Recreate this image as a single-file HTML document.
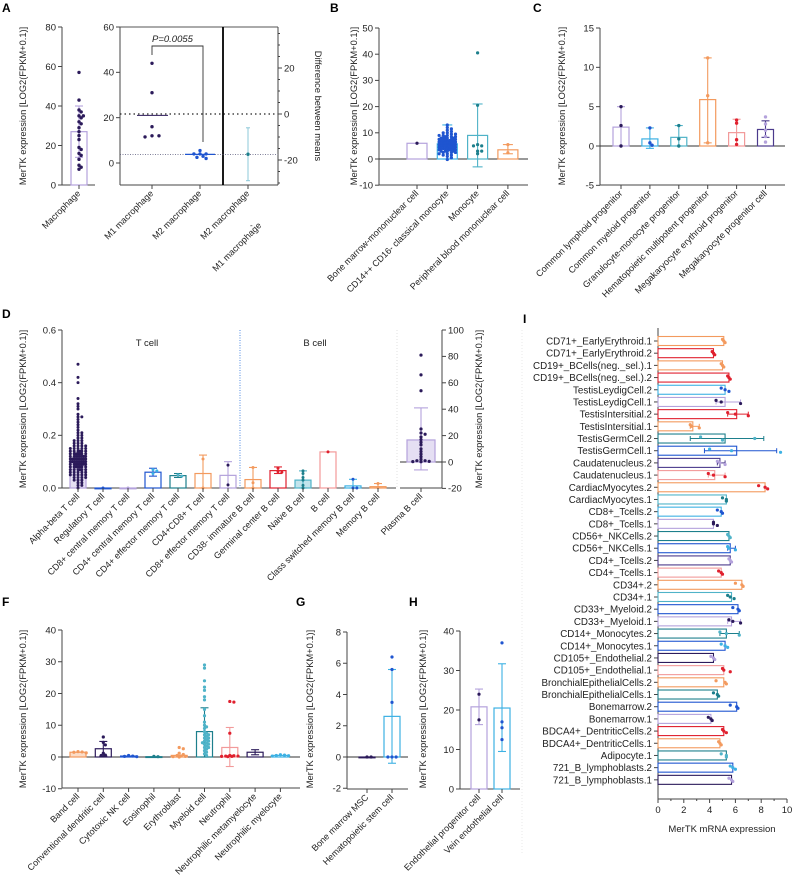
<!DOCTYPE html>
<html><head><meta charset="utf-8"><style>
html,body{margin:0;padding:0;background:#fff}
svg{display:block;font-family:"Liberation Sans",sans-serif}
</style></head><body>
<svg id="fig" width="794" height="890" viewBox="0 0 794 890"></svg>
<script>
const DP='#2b1a5a',BL='#1f55d0',TE='#1d7f8c',OR='#f39a5e',RD='#e0202e',LV='#b4a2dc',LB='#3db1e3',PK='#f29a9a',CY='#4fb3c8',PU='#4b3a8c';
const YT='MerTK expression [LOG2(FPKM+0.1)]';
// ---- Panel A data
const aMacPts=[57,43,38,37,35,35,34,32,31,29,27,25,23,19,18,16,15,13,10,9,8];
const aMacMean=[27];const aMacErr=[[14,40]];
const aM1Pts=[44,31,16,11.5,12,12];const aM1Mean=[21];
const aM2Pts=[5.5,4,4,2,3,2.5,4];const aM2Mean=[3.8];
const aDiff=[-17.5];const aDiffErr=[[-29,-6]];
// ---- Panel B
const bCats=['Bone marrow-mononuclear cell','CD14++ CD16- classical monocyte','Monocyte','Peripheral blood mononuclear cell'];
const bMeans=[6,5.8,9,3.5];
const bErr=[null,[0,13],[-3,21],[2,5.5]];
const bPts=[[6],[13,12,11.5,11,10.5,10,10,9.5,9.5,9,9,9,8.5,8.5,8.5,8,8,8,8,7.5,7.5,7.5,7.5,7,7,7,7,7,6.5,6.5,6.5,6.5,6.5,6,6,6,6,6,6,5.5,5.5,5.5,5.5,5.5,5.5,5,5,5,5,5,5,4.5,4.5,4.5,4.5,4.5,4,4,4,4,4,3.5,3.5,3.5,3.5,3,3,3,3,2.5,2.5,2.5,2,2,1.5,1.5,1,0.5,-0.2],[40.5,20.5,5.5,5,5,3,3,2],[5.5,2.4]];
const bCols=[LV,LB,CY,OR];const bPC=[DP,BL,TE,OR];
// ---- Panel C
const cCats=['Common lymphoid progenitor','Common myeloid progenitor','Granulocyte-monocyte progenitor','Hematopoietic multipotent progenitor','Megakaryocyte erythroid progenitor','Megakaryocyte progenitor cell'];
const cMeans=[2.4,0.9,1.1,5.9,1.7,2.1];
const cErr=[[0,5],[-0.3,2.3],[0,2.6],[0.4,11.2],[0,3.4],[1.1,3.2]];
const cPts=[[5,2.6,0],[2.3,0.1,0.4],[2.6,0.9,0],[11.2,6.4,0.4],[3.3,2.9,0.8,0.2],[3.7,2.8,2,1.2,0.5]];
const cCols=[LV,LB,CY,OR,PK,PU];const cPC=[DP,BL,TE,OR,RD,LV];
// ---- Panel D
const dCats=['Alpha-beta T cell','Regulatory T cell','CD8+ central memory T cell','CD4+ central memory T cell','CD4+ effector memory T cell','CD4+CD8+ T cell','CD8+ effector memory T cell','CD38- immature B cell','Germinal center B cell','Naive B cell','B cell','Class switched memory B cell','Memory B cell'];
const dMeans=[0.1,0,0,0.06,0.047,0.055,0.048,0.032,0.066,0.03,0.137,0.008,0.005];
const dErr=[null,null,null,[0.045,0.075],[0.04,0.055],[0,0.125],[0,0.1],[0,0.078],[0.055,0.08],[0,0.065],null,[0,0.033],[0,0.017]];
const dPts=[[0.47,0.42,0.4,0.34,0.32,0.31,0.3,0.28,0.27,0.27,0.26,0.25,0.24,0.23,0.22,0.21,0.21,0.2,0.2,0.19,0.19,0.18,0.18,0.18,0.17,0.17,0.17,0.16,0.16,0.16,0.16,0.15,0.15,0.15,0.15,0.15,0.14,0.14,0.14,0.14,0.14,0.14,0.13,0.13,0.13,0.13,0.13,0.13,0.13,0.12,0.12,0.12,0.12,0.12,0.12,0.12,0.12,0.11,0.11,0.11,0.11,0.11,0.11,0.11,0.11,0.11,0.1,0.1,0.1,0.1,0.1,0.1,0.1,0.1,0.1,0.09,0.09,0.09,0.09,0.09,0.09,0.09,0.09,0.08,0.08,0.08,0.08,0.08,0.08,0.08,0.07,0.07,0.07,0.07,0.07,0.07,0.06,0.06,0.06,0.06,0.06,0.05,0.05,0.05,0.05,0.05,0.04,0.04,0.04,0.04,0.03,0.03,0.03,0.02,0.02,0.01,0.01,0.0],[0],[0],[0.07,0.055,0.065],[0.05,0.045],[0.11,0],[0.087,0.012],[0.078,0.02,0],[0.075,0.06,0.062],[0.065,0.055,0.04,0.03,0.01,0],[0.137],[0.033,0,0],[0.017,0.002]];
const dCols=[LV,BL,LV,BL,TE,OR,LV,OR,RD,CY,PK,LB,OR];const dPC=[DP,BL,LV,LB,CY,OR,DP,OR,RD,TE,RD,BL,OR];
const pCats=['Plasma B cell'];const pMeans=[16.7];const pErr=[[-6,41]];
const pPts=[[81,66,54,25,22,21,19,17,15,13,10,8,6,4,2,1,1,0.5,0.3,0.2]];
// ---- Panel F
const fCats=['Band cell','Conventional dendritic cell','Cytotoxic NK cell','Eosinophil','Erythroblast','Myeloid cell','Neutrophil','Neutrophilic metamyelocyte','Neutrophilic myelocyte'];
const fMeans=[1.5,2.6,0.3,0.1,0.5,8,3,1.5,0.5];
const fErr=[null,[0.3,4.9],null,null,null,[0,15.5],[-3,9.3],[0.7,2.3],null];
const fPts=[[1.7,1.5,1.6,1.3],[6.3,4.6,3.8,1.2,0.6,0.5],[0.5,0.3,0.2,0.1],[0.2,0.1],[3,2.6,1.2,0.8,0.5,0.3,0.2,0.1,0],[29,28,24,22,21,19,18,15,13,11,10,9.5,9,8,7.5,7,7,6.5,6,6,5.5,5,5,4.5,4.5,4,4,3.5,3,3,2.5,2,1.5,1,0.5],[17.5,17.3,7.5,0.5,0.4,0.3,0.3,0.2,0.2,0.1],[],[0.7,0.6,0.5,0.4,0.3]];
const fCols=[OR,DP,BL,TE,OR,TE,PK,DP,LB];const fPC=[OR,DP,BL,TE,OR,CY,RD,DP,LB];
// ---- Panel G
const gCats=['Bone marrow MSC','Hematopoietic stem cell'];const gMeans=[0,2.6];const gErr=[null,[-0.4,5.6]];
const gPts=[[0,0],[6.4,5.6,3.5,0,0,0]];
// ---- Panel H
const hCats=['Endothelial progenitor cell','Vein endothelial cell'];const hMeans=[20.8,20.5];const hErr=[[16.3,25.3],[9.5,31.7]];
const hPts=[[24,17.5],[37,17,15.5,12.5]];
// ---- Panel I
const iCats=['CD71+_EarlyErythroid.1','CD71+_EarlyErythroid.2','CD19+_BCells(neg._sel.).1','CD19+_BCells(neg._sel.).2','TestisLeydigCell.2','TestisLeydigCell.1','TestisIntersitial.2','TestisIntersitial.1','TestisGermCell.2','TestisGermCell.1','Caudatenucleus.2','Caudatenucleus.1','CardiacMyocytes.2','CardiacMyocytes.1','CD8+_Tcells.2','CD8+_Tcells.1','CD56+_NKCells.2','CD56+_NKCells.1','CD4+_Tcells.2','CD4+_Tcells.1','CD34+.2','CD34+.1','CD33+_Myeloid.2','CD33+_Myeloid.1','CD14+_Monocytes.2','CD14+_Monocytes.1','CD105+_Endothelial.2','CD105+_Endothelial.1','BronchialEpithelialCells.2','BronchialEpithelialCells.1','Bonemarrow.2','Bonemarrow.1','BDCA4+_DentriticCells.2','BDCA4+_DentriticCells.1','Adipocyte.1','721_B_lymphoblasts.2','721_B_lymphoblasts.1'];
const iVals=[5.1,4.3,5.0,5.5,5.2,5.2,6.1,2.7,5.2,6.1,4.8,4.4,8.3,5.3,4.9,4.3,5.5,5.6,5.6,4.9,6.5,5.7,6.2,5.7,5.3,5.2,4.3,5.1,5.1,4.6,6.1,4.1,5.1,4.8,5.3,5.8,5.7];
const iErr=[null,null,null,null,null,[4.5,6.4],[5.4,7],[2.5,3.2],[2.5,8.2],[3.6,9.2],[4.6,5.2],[3.9,5.2],null,null,null,null,null,[5.4,6],null,null,null,null,null,[5.4,6.4],[4.8,6.3],null,null,null,null,null,null,null,null,null,null,null,null];
const iPts=[[5,5.1,5.2],[4.2,4.3,4.4],[4.9,5,5.1],[5.4,5.5,5.6],[4.9,5.2,5.5],[4.5,4.9,6.4],[5.4,6,7],[2.5,2.6,3.2],[3.3,7.5,5],[4,5.7,9.5],[4.6,4.8,5.2],[3.9,4.3,5.2],[7.8,8.3,8.5],[5,5.3,5.3],[4.6,4.9,5],[4.3,4.3,4.6],[5.4,5.5,5.6],[5.4,5.5,6],[5.5,5.6,5.7],[4.7,4.9,5],[6,6.5,6.6],[5.4,5.6,5.9],[5.8,6.2,6.3],[5.5,5.8,6.4],[4.8,5.3,6.3],[4.9,5.2,5.4],[4.1,4.3,4.4],[5,5.1,5.6],[4.5,5.2,5.3],[4.3,4.6,4.7],[5.6,6.1,6.2],[3.9,4.1,4.2],[5,5.1,5.3],[4.7,4.8,4.9],[4.9,5.3,5.3],[5.6,5.8,6],[5.5,5.7,5.8]];
const iCols=[OR,RD,OR,RD,LB,LV,RD,OR,TE,BL,PU,PK,OR,CY,LB,LV,TE,BL,PU,PK,OR,CY,BL,LV,TE,BL,DP,PK,OR,TE,BL,LV,RD,OR,TE,BL,DP];
const iPC=[OR,RD,OR,RD,BL,DP,RD,OR,CY,LB,LV,RD,RD,TE,BL,DP,CY,LB,LV,RD,OR,TE,BL,DP,CY,LB,LV,RD,OR,TE,BL,DP,RD,OR,CY,LB,LV];

const svg=document.getElementById('fig');const NS='http://www.w3.org/2000/svg';
function mk(tag,at,parent){const e=document.createElementNS(NS,tag);for(const k in at)e.setAttribute(k,at[k]);(parent||svg).appendChild(e);return e;}
function lin(v1,p1,v2,p2){return v=>p1+(v-v1)*(p2-p1)/(v2-v1);}
function txt(s,x,y,at,name){const t=mk('text',Object.assign({x:x,y:y,'font-size':9.5,fill:'#222'},at));t.textContent=s;


return t;}
function line(x1,y1,x2,y2,c,w,extra){const l=mk('line',Object.assign({x1:x1,y1:y1,x2:x2,y2:y2,stroke:c||'#333','stroke-width':w||1},extra||{}));return l;}
function swarm(vals,sc,cx,r,cap){const placed=[];const out=[];const d=r*1.6;cap=cap||30;
vals.slice().sort((a,b)=>b-a).forEach(v=>{const p=sc(v);let best=0,bestD=-1,found=false;
for(let k=0;k<80;k++){const off=k===0?0:(k%2?1:-1)*Math.ceil(k/2)*d*0.8;if(Math.abs(off)>cap)break;
const md=placed.reduce((m,q)=>Math.min(m,Math.hypot(q[0]-off,q[1]-p)),99);
if(md>=d){best=off;found=true;break;}if(md>bestD){bestD=md;best=off;}}
placed.push([best,p]);out.push([best,p]);});return out;}
function letter(s,x,y){txt(s,x,y,{'font-size':12,'font-weight':'bold',fill:'#000'},'panel-label-'+s.toLowerCase());}
function yAxis(ax,sc,ticks,top,bot,name,fmt,right){const g=mk('g',{});


line(ax,top,ax,bot,'#444',1);
ticks.forEach(t=>{const y=sc(t);mk('line',{x1:right?ax:ax-4,x2:right?ax+4:ax,y1:y,y2:y,stroke:'#444'},g);
const s=fmt?fmt(t):String(t);const tt=txt(s,right?ax+6:ax-6,y+3.3,{'text-anchor':right?'start':'end'},name+'-tick');g.appendChild(tt);});}
function ytitle(s,x,yc,name){const t=txt(s,x,yc,{'text-anchor':'middle','font-size':9.3,transform:'rotate(-90 '+x+' '+yc+')'},name);}
function xlabels(cats,xs,bot,name){cats.forEach((c,i)=>{line(xs[i],bot,xs[i],bot+4,'#444',1);
const x=xs[i]+2,y=bot+9;txt(c,x,y,{'text-anchor':'end','font-size':9,transform:'rotate(-45 '+x+' '+y+')'},name);});}
function bars(o){o.cats.forEach((c,i)=>{const cx=o.xs[i];const y0=o.sc(0),y1=o.sc(o.means[i]);
const r=mk('rect',{x:cx-o.bw/2,y:Math.min(y0,y1),width:o.bw,height:Math.max(Math.abs(y1-y0),0.8),fill:o.fills&&o.fills[i]?o.fills[i]:'#fff','fill-opacity':o.fills&&o.fills[i]?0.35:1,stroke:o.cols[i],'stroke-width':1.2});


const e=o.errs[i];if(e){const a=o.sc(e[0]),b=o.sc(e[1]);line(cx,a,cx,b,o.cols[i],1.1);line(cx-o.bw*0.25,a,cx+o.bw*0.25,a,o.cols[i],1.1);line(cx-o.bw*0.25,b,cx+o.bw*0.25,b,o.cols[i],1.1);}
swarm(o.pts[i],o.sc,cx,o.r||1.7,o.cap).forEach(p=>{const d=mk('circle',{cx:cx+p[0],cy:p[1],r:o.r||1.7,fill:o.pc[i]});

});});}

// ===== Panel A
letter('A',2,12);
ytitle(YT,26,106,'a-y-axis-title');
const sA=lin(0,185,80,27);yAxis(62,sA,[0,20,40,60,80],27,185,'a-left-y-axis');
line(62,185,95,185,'#444');
bars({name:'macrophage',cats:['Macrophage'],xs:[79],means:aMacMean,errs:aMacErr,pts:[aMacPts],cols:[LV],pc:[DP],sc:sA,bw:16,cap:9});
xlabels(['Macrophage'],[79],185,'a-x-label');
const sA2=lin(0,163,60,27);yAxis(120,sA2,[0,20,40,60],27,185,'a-mid-y-axis');
line(120,27,278,27,'#555');line(120,185,278,185,'#444');line(278,27,278,185,'#444');line(223,27,223,185,'#000',1.8);
const sD=lin(0,114,20,68);
[ -30,-25,-20,-15,-10,-5,0,5,10,15,20,25,30,35].forEach(t=>{const y=sD(t);if(y>27&&y<185)line(278,y,t%20===0?282:280,y,'#444');});
[20,0,-20].forEach(t=>txt(String(t),284,sD(t)+3.3,{},'a-right-tick'));
txt('Difference between means',315,106,{'text-anchor':'middle','font-size':9.3,transform:'rotate(90 315 106)'},'a-right-axis-title');
line(120,sD(0),278,sD(0),'#222',1.3,{'stroke-dasharray':'1.5,3'});
line(120,sA2(aM2Mean[0]),278,sA2(aM2Mean[0]),'#557',0.8,{'stroke-dasharray':'1,1.5'});
line(137,sA2(aM1Mean[0]),168,sA2(aM1Mean[0]),'#2b1a5a',1);line(185,sA2(aM2Mean[0]),215,sA2(aM2Mean[0]),BL,1.2);
swarm(aM1Pts,sA2,152,1.7).forEach(p=>{const c=mk('circle',{cx:152+p[0]*1.6,cy:p[1],r:1.7,fill:DP});

});
swarm(aM2Pts,sA2,200,1.7).forEach(p=>{const c=mk('circle',{cx:200+p[0]*1.4,cy:p[1],r:1.7,fill:BL});

});
line(248,sD(aDiffErr[0][0]),248,sD(aDiffErr[0][1]),'#8cc8d8',1);line(246,sD(aDiffErr[0][0]),250,sD(aDiffErr[0][0]),'#8cc8d8');line(246,sD(aDiffErr[0][1]),250,sD(aDiffErr[0][1]),'#8cc8d8');
{const c=mk('circle',{cx:248,cy:sD(aDiff[0]),r:1.7,fill:TE});

}
mk('polyline',{points:'152,55 152,46 203,46 203,142',fill:'none',stroke:'#333','stroke-width':0.9});
txt('P=0.0055',152,42,{'font-style':'italic','font-size':9.5},'p-value-label');
xlabels(['M1 macrophage','M2 macrophage','M2 macrophage'],[152,200,248],185,'a-x-label');
txt('-',250,228,{'font-size':8},'a-minus');
txt('M1 macrophage',262,226,{'text-anchor':'end','font-size':9,transform:'rotate(-45 262 226)'},'a-x-label');

// ===== Panel B
letter('B',330,12);ytitle(YT,357,106,'b-y-axis-title');
const sB=lin(0,159,50,28);yAxis(379,sB,[-10,0,10,20,30,40,50],28,185,'b-y-axis');
line(379,159,528,159,'#333');line(379,185,528,185,'#444');
const bX=bCats.map((c,i)=>417+i*30.3);
bars({name:'b',cats:bCats,xs:bX,means:bMeans,errs:bErr,pts:bPts,cols:bCols,pc:bPC,sc:sB,bw:20,r:1.6,cap:9});
xlabels(bCats,bX,185,'b-x-label');

// ===== Panel C
letter('C',533,12);ytitle(YT,565,106,'c-y-axis-title');
const sC=lin(0,146,15,28);yAxis(600,sC,[-5,0,5,10,15],28,185,'c-y-axis');
line(600,146,785,146,'#333');line(600,185,785,185,'#444');
const cX=cCats.map((c,i)=>621+i*28.9);
bars({name:'c',cats:cCats,xs:cX,means:cMeans,errs:cErr,pts:cPts,cols:cCols,pc:cPC,sc:sC,bw:16,r:1.7});
xlabels(cCats,cX,185,'c-x-label');

// ===== Panel D
letter('D',2,318);ytitle(YT,26,409,'d-y-axis-title');
const sDd=lin(0,488,0.6,330);yAxis(62,sDd,[0,0.2,0.4,0.6],330,488,'d-y-axis',t=>t.toFixed(1));
line(62,488,396,488,'#444');
line(240,330,240,488,'#3d7fe0',0.9,{'stroke-dasharray':'1,1.5'});
line(397,330,397,488,'#ccc',0.6,{'stroke-dasharray':'1,2'});
txt('T cell',147,346,{'text-anchor':'middle'},'t-cell-group-label');txt('B cell',315,346,{'text-anchor':'middle'},'b-cell-group-label');
const dX=dCats.map((c,i)=>78+i*25);
bars({name:'d',cats:dCats,xs:dX,means:dMeans,errs:dErr,pts:dPts,cols:dCols,pc:dPC,sc:sDd,bw:16,r:1.5,cap:9,fills:[LV,null,null,null,null,null,null,null,null,CY,null,null,null]});
xlabels(dCats,dX,488,'d-x-label');
const sP=lin(0,462,100,330);yAxis(442,sP,[-20,0,20,40,60,80,100],330,488,'d-right-y-axis',null,true);
line(400,462,442,462,'#333');line(400,488,442,488,'#444');
bars({name:'plasma',cats:pCats,xs:[421],means:pMeans,errs:pErr,pts:pPts,cols:[LV],pc:[DP],sc:sP,bw:28,r:1.6,cap:10,fills:[LV]});
xlabels(pCats,[421],488,'d-x-label');
ytitle(YT,482,409,'d-right-y-axis-title');

// ===== Panel F
letter('F',2,606);ytitle(YT,26,709,'f-y-axis-title');
const sF=lin(0,757,40,630);yAxis(62,sF,[-10,0,10,20,30,40],630,788,'f-y-axis');
line(62,757,300,757,'#333');line(62,788,300,788,'#444');
const fX=fCats.map((c,i)=>78+i*25.3);
bars({name:'f',cats:fCats,xs:fX,means:fMeans,errs:fErr,pts:fPts,cols:fCols,pc:fPC,sc:sF,bw:16,r:1.6,cap:9,fills:[OR]});
xlabels(fCats,fX,788,'f-x-label');

// ===== Panel G
letter('G',296,606);ytitle(YT,313,709,'g-y-axis-title');
const sG=lin(0,757,8,632);yAxis(347,sG,[-2,0,2,4,6,8],632,789,'g-y-axis');
line(347,757,408,757,'#333');line(347,789,408,789,'#444');
bars({name:'g',cats:gCats,xs:[367,392],means:gMeans,errs:gErr,pts:gPts,cols:[DP,LB],pc:[DP,BL],sc:sG,bw:16,r:1.6});
xlabels(gCats,[367,392],789,'g-x-label');

// ===== Panel H
letter('H',409,606);ytitle(YT,426,709,'h-y-axis-title');
const sH=lin(0,789,40,631);yAxis(460,sH,[0,10,20,30,40],631,789,'h-y-axis');
line(460,789,520,789,'#444');
bars({name:'h',cats:hCats,xs:[479,502],means:hMeans,errs:hErr,pts:hPts,cols:[LV,LB],pc:[DP,BL],sc:sH,bw:16,r:1.6});
xlabels(hCats,[479,502],789,'h-x-label');

// ===== Panel I
letter('I',523,323);
const sI=lin(0,658,10,787);const rowY=i=>341+i*12.19;
line(658,328,658,799,'#444');line(658,799,787,799,'#444');
[0,2,4,6,8,10].forEach(t=>{line(sI(t),799,sI(t),803,'#444');txt(String(t),sI(t),813,{'text-anchor':'middle'},'i-x-tick');});
[1,3,5,7,9].forEach(t=>line(sI(t),799,sI(t),801,'#444'));
txt('MerTK mRNA expression',722,832,{'text-anchor':'middle','font-size':9.5},'i-x-axis-title');
iCats.forEach((c,i)=>{const y=rowY(i);line(654,y,658,y,'#444');txt(c,652,y+3.5,{'text-anchor':'end','font-size':9.8},'i-row-label');
const r=mk('rect',{x:658,y:y-4.5,width:sI(iVals[i])-658,height:9,fill:'#fff',stroke:iCols[i],'stroke-width':1.1});


const e=iErr[i];if(e){line(sI(e[0]),y,sI(e[1]),y,iCols[i],1);line(sI(e[0]),y-2.5,sI(e[0]),y+2.5,iCols[i]);line(sI(e[1]),y-2.5,sI(e[1]),y+2.5,iCols[i]);}
iPts[i].forEach((v,k)=>{const d=mk('circle',{cx:sI(v),cy:y+(k-1)*1.6,r:1.6,fill:iPC[i]});

});});
line(522,330,522,855,'#ddd',0.6,{'stroke-dasharray':'1,2'});
</script>
</body></html>
